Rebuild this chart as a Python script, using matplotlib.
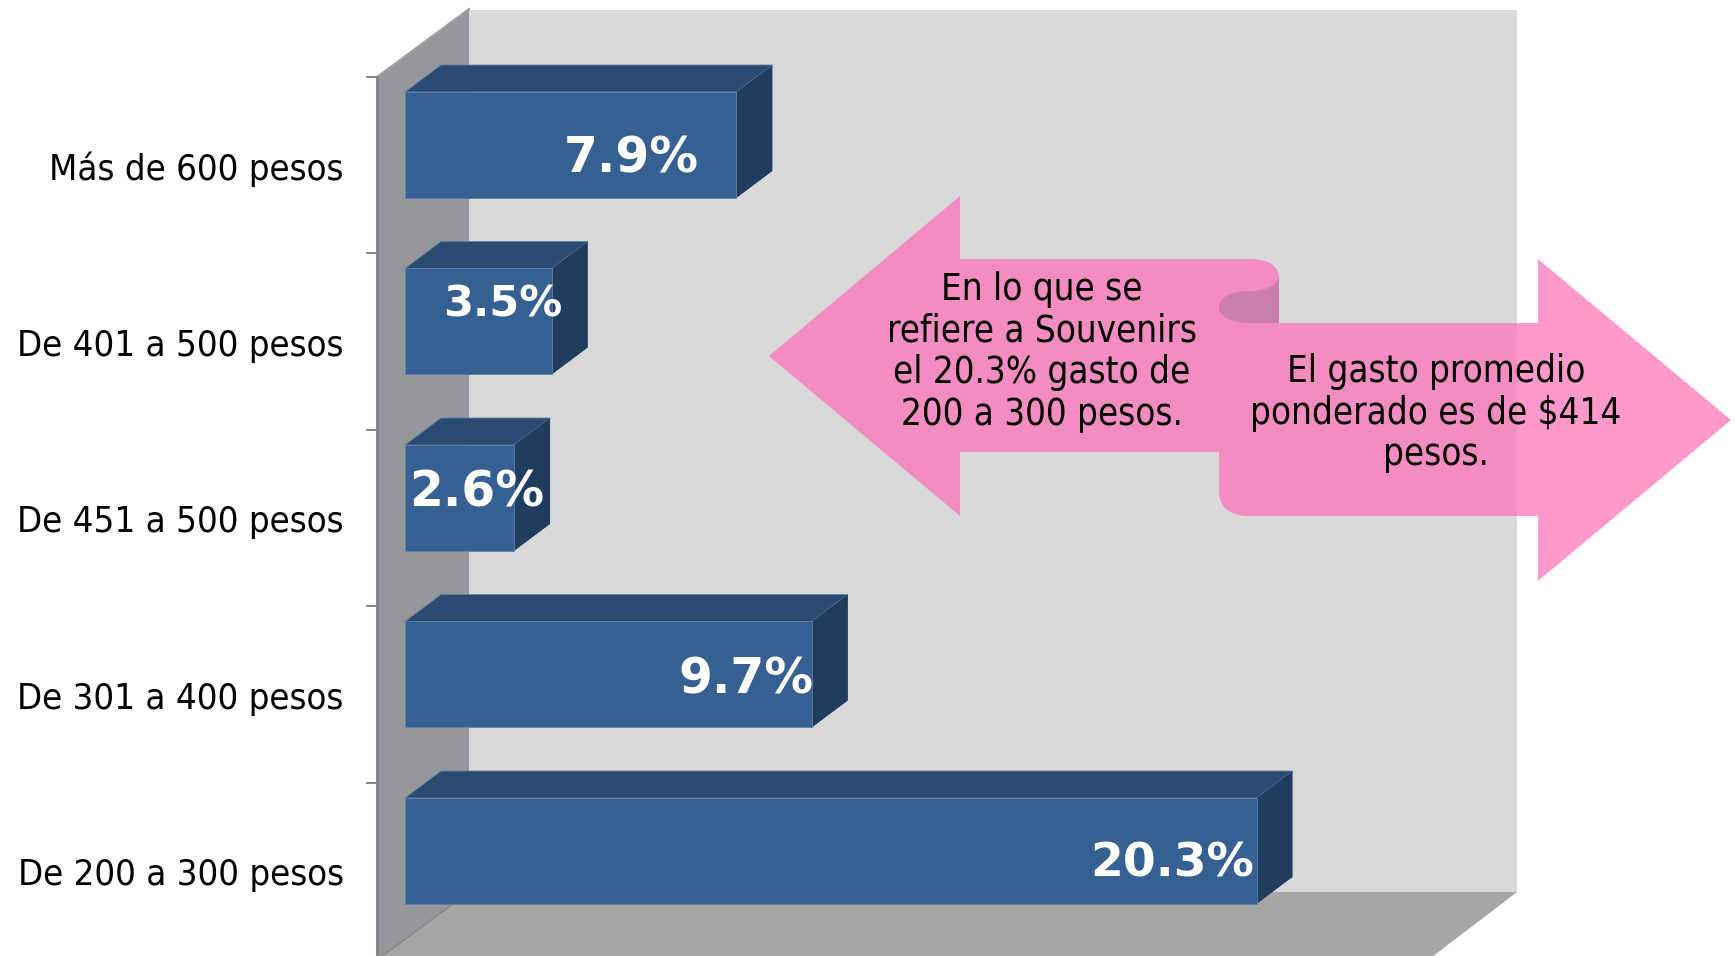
import matplotlib
matplotlib.use("Agg")
import matplotlib.pyplot as plt
from matplotlib.patches import Polygon, PathPatch
from matplotlib.path import Path

# ---- data ----
categories = ["Más de 600 pesos", "De 401 a 500 pesos", "De 451 a 500 pesos",
              "De 301 a 400 pesos", "De 200 a 300 pesos"]
values = [7.9, 3.5, 2.6, 9.7, 20.3]
value_labels = ["7.9%", "3.5%", "2.6%", "9.7%", "20.3%"]
note_left = "En lo que se\nrefiere a Souvenirs\nel 20.3% gasto de\n200 a 300 pesos."
note_right = "El gasto promedio\nponderado es de $414\npesos."

# ---- layout (pixels) ----
W, H = 1735, 956
X0_PX, PX_PER_UNIT = 405.0, 41.95
Y0_PX, PX_PER_CAT = 145.0, 176.5
BAR_H_PX = 106.0
DX_PX, DY_PX = 36.0, 27.0
LABEL_RIGHT_PX = [699, 562, 544, 813, 1254]
LABEL_Y_PX = [159, 305, 493, 680, 864]
LABEL_SIZES = [35, 31, 35, 35, 34]
AXIS_X_PX = 377

C_FRONT, C_TOP, C_SIDE = "#376092", "#2B4A72", "#203D5E"
C_EDGE = "#5F7FA8"
C_WALL, C_BACK, C_FLOOR, C_LINE = "#96979B", "#D9D9D9", "#A6A6A6", "#868686"

fig = plt.figure(figsize=(W / 100, H / 100), dpi=100, facecolor="white")


def pixel_axes(zorder):
    a = fig.add_axes([0, 0, 1, 1], zorder=zorder)
    a.set_xlim(0, W)
    a.set_ylim(H, 0)
    a.axis("off")
    return a


# ---- 3D chart walls ----
bg = pixel_axes(0)
bg.add_patch(Polygon([(469, 10), (1517, 10), (1517, 892), (469, 892)], fc=C_BACK, ec="none"))
bg.add_patch(Polygon([(AXIS_X_PX, 77), (469, 9), (469, 892), (AXIS_X_PX, 960)],
                     fc=C_WALL, ec="none"))
bg.plot([AXIS_X_PX, 469], [77, 9], color="#A0A0A0", lw=1.5)
bg.add_patch(Polygon([(469, 892), (1517, 892), (1428, 960), (AXIS_X_PX, 960)],
                     fc=C_FLOOR, ec="none"))
bg.plot([469, AXIS_X_PX], [892, 960], color="#868686", lw=1)

# ---- bars on real axes ----
ax = fig.add_axes([AXIS_X_PX / W, 0, 1 - AXIS_X_PX / W, 1], zorder=1)
ax.patch.set_visible(False)
ax.set_xlim((AXIS_X_PX - X0_PX) / PX_PER_UNIT, (W - X0_PX) / PX_PER_UNIT)
ax.set_ylim((H - Y0_PX) / PX_PER_CAT, (0 - Y0_PX) / PX_PER_CAT)

ddx = DX_PX / PX_PER_UNIT
ddy = DY_PX / PX_PER_CAT
half = BAR_H_PX / PX_PER_CAT / 2

positions = list(range(len(categories)))
for y, v in zip(positions, values):
    ax.add_patch(Polygon([(0, y - half), (v, y - half), (v + ddx, y - half - ddy),
                          (ddx, y - half - ddy)], fc=C_TOP, ec=C_EDGE, lw=0.6, zorder=2))
    ax.add_patch(Polygon([(v, y - half), (v + ddx, y - half - ddy),
                          (v + ddx, y + half - ddy), (v, y + half)],
                         fc=C_SIDE, ec="none", zorder=2))
ax.barh(positions, values, height=2 * half, color=C_FRONT, edgecolor=C_EDGE, linewidth=0.6, zorder=3)

for lab, right, ypx, size in zip(value_labels, LABEL_RIGHT_PX, LABEL_Y_PX, LABEL_SIZES):
    ax.text((right - X0_PX) / PX_PER_UNIT, (ypx - Y0_PX) / PX_PER_CAT, lab,
            ha="right", va="center", color="white", fontsize=size,
            fontweight="bold", family="DejaVu Sans", zorder=4)

for s in ("top", "right", "bottom"):
    ax.spines[s].set_visible(False)
ax.spines["left"].set_color(C_LINE)
ax.spines["left"].set_linewidth(2.2)
tick_top = (77 - Y0_PX) / PX_PER_CAT
ax.spines["left"].set_bounds(tick_top, (H - Y0_PX) / PX_PER_CAT)
ax.set_xticks([])
ax.set_yticks([p + tick_top for p in positions])
ax.set_yticklabels([])
ax.tick_params(axis="y", which="major", length=7.9, width=1.4, color=C_LINE)
label_off = (166 - 145) / PX_PER_CAT
ax.set_yticks([p + label_off for p in positions], minor=True)
ax.set_yticklabels(categories, minor=True, fontsize=26.2, family="DejaVu Sans",
                   stretch="condensed", color="black")
ax.tick_params(axis="y", which="minor", length=0, pad=24.0)

# ---- double ribbon arrow callout ----
fg = pixel_axes(2)
verts = [(769, 356), (960, 196), (960, 259), (1250, 259),
         (1268, 259), (1279, 266), (1279, 278),
         (1279, 323), (1538, 323), (1538, 259), (1731, 420), (1538, 581), (1538, 516),
         (1248, 516), (1230, 516), (1219, 507), (1219, 492),
         (1219, 452), (960, 452), (960, 516), (769, 356)]
codes = [Path.MOVETO, Path.LINETO, Path.LINETO, Path.LINETO,
         Path.CURVE4, Path.CURVE4, Path.CURVE4,
         Path.LINETO, Path.LINETO, Path.LINETO, Path.LINETO, Path.LINETO, Path.LINETO,
         Path.LINETO, Path.CURVE4, Path.CURVE4, Path.CURVE4,
         Path.LINETO, Path.LINETO, Path.LINETO, Path.CLOSEPOLY]
fg.add_patch(PathPatch(Path(verts, codes), fc=(1.0, 0.435, 0.72), alpha=0.71, ec="none"))
fold = [(1279, 278), (1275, 286), (1266, 291), (1250, 291),
        (1230, 291), (1219, 298), (1219, 307),
        (1219, 316), (1230, 323), (1250, 323),
        (1279, 323), (1279, 278)]
fold_codes = [Path.MOVETO, Path.CURVE4, Path.CURVE4, Path.CURVE4,
              Path.CURVE4, Path.CURVE4, Path.CURVE4,
              Path.CURVE4, Path.CURVE4, Path.CURVE4,
              Path.LINETO, Path.CLOSEPOLY]
fg.add_patch(PathPatch(Path(fold, fold_codes), fc="#CB7FAB", ec="none"))

note_style = dict(ha="center", va="center", fontsize=26.3, family="DejaVu Sans",
                  stretch="condensed", color="black", linespacing=1.16, multialignment="center")
fg.text(1042, 352, note_left, **note_style)
fg.text(1436, 413, note_right, **note_style)

fig.savefig("out.png", dpi=100)
